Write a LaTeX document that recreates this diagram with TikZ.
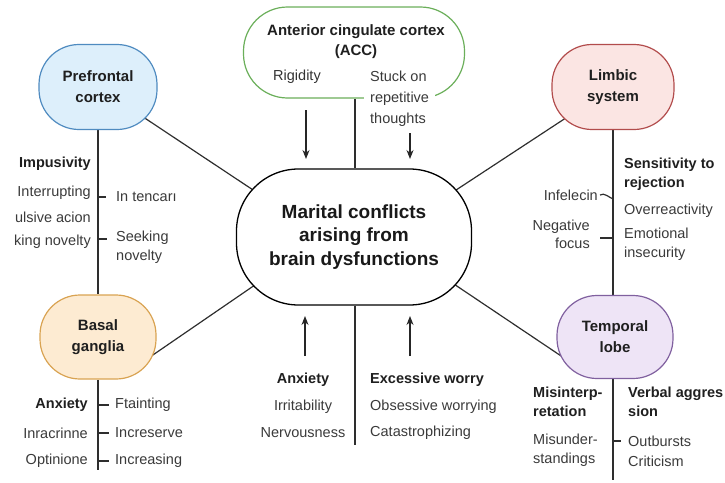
\documentclass[tikz,border=0pt]{standalone}
\usepackage{fontspec}
\setmainfont{Liberation Sans}
\usetikzlibrary{positioning,arrows.meta,backgrounds}

\definecolor{pfcfill}{HTML}{DDEFFB}
\definecolor{pfcline}{HTML}{4F8BC0}
\definecolor{accline}{HTML}{6BAF5A}
\definecolor{limfill}{HTML}{FBE5E3}
\definecolor{limline}{HTML}{B24C4C}
\definecolor{bgfill}{HTML}{FDEBD2}
\definecolor{bgline}{HTML}{D9A352}
\definecolor{tlfill}{HTML}{EEE4F6}
\definecolor{tlline}{HTML}{80609F}
\definecolor{inkgray}{HTML}{3A3A3A}

\begin{document}
\begin{tikzpicture}[
  x=1pt, y=-1pt,
  region/.style={
    draw, line width=1.2pt,
    rounded corners=40pt,
    minimum width=118pt, minimum height=85pt,
    font=\fontsize{15}{21}\selectfont\bfseries,
    align=center, text=black!88
  },
  hub/.style={
    draw, line width=1.3pt, fill=white,
    rounded corners=62pt,
    minimum width=235pt, minimum height=136pt,
    font=\fontsize{19}{23.5}\selectfont\bfseries,
    align=center, text=black!90
  },
  item/.style={font=\fontsize{14.5}{18.5}\selectfont, text=inkgray, inner sep=0pt},
  head/.style={item, font=\fontsize{14.5}{19}\selectfont\bfseries, text=black!88},
  link/.style={line width=1.2pt, black!82},
  tick/.style={line width=1.2pt, black!82},
  push/.style={line width=1.2pt, black!85, -{Stealth[length=9pt,width=7pt]}}
]
\useasboundingbox (0,0) rectangle (725,482);

% --- Centre ---
\node[hub] (core) at (354,237) {Marital conflicts\\arising from\\brain dysfunctions};

% --- Regions ---
\node[region, fill=pfcfill, draw=pfcline] (pfc) at (98,87) {Prefrontal\\cortex};
\node[region, fill=white, draw=accline, minimum width=221pt, minimum height=91pt,
  rounded corners=44pt] (acc) at (354,52.5) {};
\node[region, fill=limfill, draw=limline, minimum width=122pt] (lim) at (613,87) {Limbic\\system};
\node[region, fill=bgfill, draw=bgline, minimum width=116pt, minimum height=84pt] (bg) at (98,337) {Basal\\ganglia};
\node[region, fill=tlfill, draw=tlline, minimum width=116pt, minimum height=83pt] (tl) at (615,337) {Temporal\\lobe};

% --- ACC contents ---
\node[font=\fontsize{15}{20}\selectfont\bfseries, align=center, text=black!88, inner sep=0pt]
  (acctitle) at (356,42) {Anterior cingulate cortex\\(ACC)};
\node[item, text=black!80] (rigid) at (297,77) {Rigidity};
\node[item, font=\fontsize{14.5}{21}\selectfont, anchor=west, align=left, fill=white,
  inner xsep=6pt, inner ysep=1pt] (stuck) at (364,99) {Stuck on\\repetitive\\thoughts};

% --- Tails ---
\coordinate (bgtail) at (98,470);
\coordinate (tltail) at (613,480);
\coordinate (coretail) at (355,445);

\begin{scope}[on background layer]
  \draw[link] (pfc.center) -- ([yshift=-20pt]core.center);
  \draw[link] (lim.center) -- ([yshift=-20pt]core.center);
  \draw[link] ([xshift=33pt,yshift=-33pt]bg.center) -- ([yshift=20pt]core.center);
  \draw[link] ([xshift=-33pt,yshift=-33pt]tl.center) -- ([yshift=20pt]core.center);
  \draw[link] (pfc.south) -- (bg.north);
  \draw[link] (bg.south) -- (bgtail);
  \draw[link] (lim.south) -- (lim.south |- tl.north);
  \draw[link] (tl.north -| tltail) -- (tltail);
  \draw[link] (acc.south -| coretail) -- (core.north -| coretail);
  \draw[link] (core.south -| coretail) -- (coretail);
\end{scope}

% --- Arrows ---
\foreach \x/\ya/\yb [count=\i] in {306/110/159, 410/133/159, 305/356/316, 410/356/316} {
  \coordinate (arrs\i) at (\x,\ya);
  \coordinate (arre\i) at (\x,\yb);
  \draw[push] (arrs\i) -- (arre\i);
}

% --- Prefrontal cortex ---
\node[head, anchor=east] (impu) at (91,164) {Impusivity};
\foreach \t/\y [count=\i] in {Interrupting/193, ulsive acion/217, king novelty/242} {
  \node[item, anchor=east] (pfl\i) at (91,\y) {\t};
}
\node[item, anchor=west] (intc) at (116,197) {In tencarı};
\node[item, anchor=west, align=left] (seek) at (116,247) {Seeking\\novelty};
\draw[tick] (pfc.south |- intc.west) -- ++(8,0);
\draw[tick] (pfc.south |- 0,239) -- ++(9,0);

% --- Basal ganglia ---
\node[head, anchor=east] (bganx) at (88,405) {Anxiety};
\foreach \t/\y [count=\i] in {Inracrinne/433, Optinione/461} {
  \node[item, anchor=east] (bgl\i) at (88,\y) {\t};
}
\foreach \t/\y [count=\i] in {Ftainting/405, Increserve/433, Increasing/461} {
  \node[item, anchor=west] (bgr\i) at (115,\y) {\t};
  \draw[tick] (bg.south |- bgr\i.west) -- ++(11,0);
}

% --- Limbic system ---
\node[head, anchor=west, align=left] (sens) at (624,174.5) {Sensitivity to\\rejection};
\node[item, anchor=west] (over) at (624,211) {Overreactivity};
\node[item, anchor=west, align=left] (emot) at (624,244) {Emotional\\insecurity};
\node[item, anchor=east] (infel) at (598,195) {Infelecin};
\node[item, anchor=east, align=right] (nega) at (590,234.5) {Negative\\focus};
\draw[tick] ([xshift=2pt]infel.east) .. controls +(4,-3) and +(-3,-1) .. (lim.south |- 0,199);
\draw[tick] (lim.south |- 0,238) -- ++(-13,0);

% --- Temporal lobe ---
\node[head, anchor=west, align=left] (misi) at (533,402) {Misinterp-\\retation};
\node[item, anchor=west, align=left] (misu) at (533,450) {Misunder-\\standings};
\node[head, anchor=west, align=left] (verb) at (628,402) {Verbal aggres\\sion};
\node[item, anchor=west] (outb) at (628,441) {Outbursts};
\node[item, anchor=west] (crit) at (628,461) {Criticism};
\draw[tick] (tltail |- outb.west) -- ++(8,0);

% --- Below the centre ---
\node[head] (canx) at (303,380) {Anxiety};
\node[item] (irri) at (303,407) {Irritability};
\node[item] (nerv) at (303,433) {Nervousness};
\node[head, anchor=west] (worry) at (370,380) {Excessive worry};
\node[item, anchor=west] (obse) at (370,407) {Obsessive worrying};
\node[item, anchor=west] (cata) at (370,433) {Catastrophizing};
\end{tikzpicture}
\end{document}
